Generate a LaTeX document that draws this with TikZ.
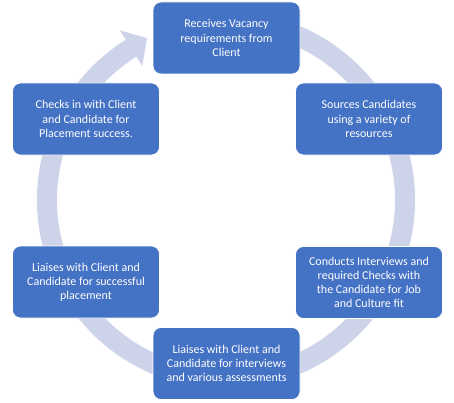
\documentclass[tikz,border=0pt]{standalone}
\usepackage{fontspec}
\setmainfont{Carlito}
\usepackage{tikz}
\usetikzlibrary{calc}

\definecolor{stageblue}{RGB}{68,114,196}
\definecolor{ringblue}{RGB}{205,212,234}

\begin{document}
\begin{tikzpicture}[x=1pt, y=1pt,
	stage/.style={draw=white, line width=0.8pt, fill=stageblue, rounded corners=8pt,
		minimum width=147pt, minimum height=72pt, inner sep=2pt, align=center,
		text=white, font=\fontsize{12}{14.2}\selectfont}]
	\useasboundingbox (0,0) rectangle (454,402);

	% Cycle arrow behind the boxes
	\begin{scope}[shift={(226,202)}]
		\fill[ringblue] (70:189) arc[start angle=70, end angle=-238, radius=189]
			-- (-238:200) -- (-244:180) -- (-238:158) -- (-238:169)
			arc[start angle=-238, end angle=70, radius=169] -- cycle;
	\end{scope}

	% Stages, clockwise from the top
	\node[stage] (receive) at (226.5, 364) {Receives Vacancy\\requirements from\\Client};
	\node[stage] (source) at (369, 283) {Sources Candidates\\using a variety of\\resources};
	\node[stage] (interview) at (369, 119.5) {Conducts Interviews and\\required Checks with\\the Candidate for Job\\and Culture fit};
	\node[stage] (assess) at (226.5, 38.5) {Liaises with Client and\\Candidate for interviews\\and various assessments};
	\node[stage] (place) at (86, 120) {Liaises with Client and\\Candidate for successful\\placement};
	\node[stage] (checkin) at (86, 283) {Checks in with Client\\and Candidate for\\Placement success.};
\end{tikzpicture}
\end{document}
